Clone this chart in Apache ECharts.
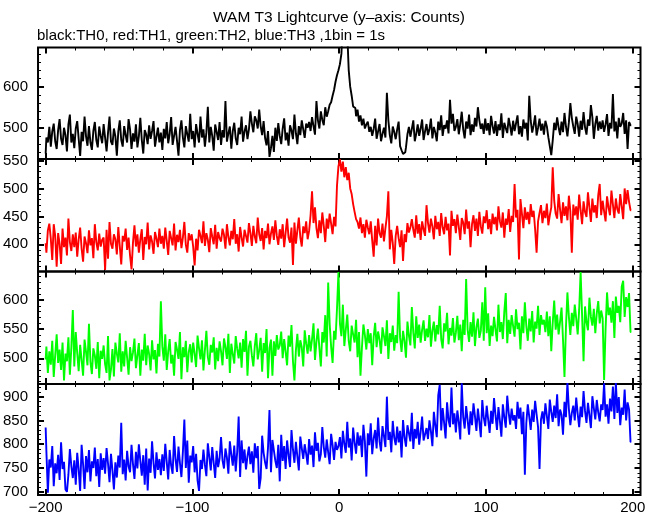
<!DOCTYPE html>
<html><head><meta charset="utf-8">
<script src="https://cdn.jsdelivr.net/npm/echarts@6/dist/echarts.min.js"></script>
<style>html,body{margin:0;padding:0;background:#fff}#c{width:660px;height:515px}</style>
</head><body><div id="c"></div>
<script>
// Time of the first bin and bin width (s)
const binStart = -200;
const binSize = 1;

// TH0 (black) counts per 1 s bin, x = -200 ... 199
const th0 = [
437,476,464,502,454,491,510,467,448,494,521,473,458,500,482,442,508,532,464,485,
450,498,516,473,431,490,467,527,479,456,504,464,446,492,514,470,452,503,480,462,
509,476,442,488,527,466,458,498,479,432,491,518,470,454,504,482,464,521,496,448,
486,466,508,452,479,524,470,437,494,484,460,506,473,492,516,454,478,500,464,488,
446,497,474,514,462,485,526,458,480,502,468,432,494,518,476,452,504,484,466,534,
472,492,452,509,485,464,527,476,496,454,488,551,464,502,480,444,508,490,470,514,
458,494,476,565,466,486,503,449,492,512,474,458,500,484,527,466,491,506,472,496,
540,510,489,528,518,498,544,504,482,516,475,457,492,429,450,480,441,500,468,511,
480,460,498,523,469,488,456,506,493,472,532,486,460,504,482,518,496,475,510,500,
514,492,526,504,483,565,518,498,540,519,506,550,527,540,556,562,578,592,612,628,
640,655,680,760,800,780,730,640,600,578,552,548,528,544,515,530,506,522,498,508,
515,490,502,480,497,522,473,491,509,467,485,500,476,585,518,482,462,503,490,472,
496,515,455,445,436,440,452,484,502,478,497,518,467,485,508,480,498,520,470,491,
509,482,496,522,474,502,488,467,515,494,530,480,506,498,518,486,568,510,534,492,
502,521,484,509,539,496,474,515,498,532,482,508,490,524,503,550,518,497,510,485,
522,493,511,482,529,504,486,516,480,508,494,535,475,512,499,487,524,504,481,517,
492,511,530,484,504,478,520,498,512,469,578,517,488,506,530,481,500,522,493,510,
483,517,503,477,455,433,469,512,494,525,501,482,515,489,536,503,479,513,560,524,
503,485,527,509,478,517,495,538,501,483,520,505,555,526,473,509,529,493,515,497,
518,490,508,533,480,512,498,582,491,515,474,524,502,510,536,485,518,448,514,506
];
// TH1 (red)
const th1 = [
402,385,425,437,410,372,436,415,360,420,401,365,428,395,412,380,446,404,388,418,
395,421,378,409,430,392,369,414,402,384,425,398,411,375,436,404,389,419,396,408,
412,354,426,374,440,401,392,418,409,382,431,397,364,415,405,428,390,412,380,355,
403,434,396,418,385,409,427,372,413,400,439,391,416,405,383,422,410,395,428,401,
415,392,430,406,381,424,411,398,437,389,417,404,426,393,412,440,399,385,420,407,
418,396,362,410,389,426,415,402,441,397,420,408,386,429,414,400,435,392,422,411,
405,428,417,392,436,413,398,424,409,445,401,418,387,431,412,396,426,415,403,438,
420,397,433,414,402,448,418,406,429,391,424,411,437,400,419,432,408,443,415,399,
427,410,436,395,421,446,412,403,430,363,439,401,425,448,413,396,432,420,441,409,
424,452,495,438,466,429,411,443,420,457,433,404,446,428,455,437,418,449,432,505,
540,552,530,548,520,538,515,528,500,490,472,458,445,440,428,448,420,436,412,444,
430,418,441,407,378,433,398,446,420,412,437,405,429,450,495,391,426,402,365,415,
433,411,395,425,370,418,404,438,421,430,445,426,412,452,419,436,408,441,427,415,
470,438,421,446,432,409,451,427,440,415,456,430,418,449,425,437,380,460,433,445,
420,453,431,408,447,439,418,462,428,441,395,436,452,424,446,415,458,432,419,450,
438,461,427,445,418,455,436,449,425,468,441,430,457,412,446,435,463,422,451,440,
508,448,462,373,481,455,429,466,444,458,436,472,449,460,427,385,441,456,470,438,
460,447,473,434,452,466,538,478,455,446,490,462,438,475,451,468,443,487,459,385,
471,452,468,444,489,461,436,477,458,449,493,466,440,482,457,470,447,488,508,452,
478,459,441,486,466,452,496,471,447,482,463,455,490,468,445,500,472,497,476,461
];
// TH2 (green)
const th2 = [
498,520,475,512,489,530,468,505,541,492,515,480,527,462,508,495,536,472,518,583,
486,545,509,478,523,497,470,532,511,488,559,494,473,517,505,482,528,466,513,499,
522,490,475,538,462,481,516,469,527,508,493,543,477,512,486,530,501,472,519,495,
510,534,483,505,526,470,515,496,542,488,522,507,479,531,498,514,474,525,503,598,
520,496,541,480,512,533,491,506,470,528,515,499,545,464,519,502,530,476,511,524,
493,527,508,485,539,517,498,531,479,514,547,502,489,523,510,536,481,518,495,529,
512,488,534,519,499,542,475,525,507,491,538,516,500,527,484,533,511,547,470,520,
530,505,486,521,543,498,514,535,477,526,509,550,466,518,532,470,529,504,540,515,
522,546,500,533,511,488,539,520,557,495,462,514,542,503,531,519,486,548,525,508,
540,512,533,560,497,529,551,518,486,545,527,574,503,630,560,520,492,547,532,585,
648,560,538,592,521,549,575,530,512,556,541,527,566,502,545,470,519,558,540,515,
550,526,543,488,537,561,519,546,532,508,553,538,521,565,499,543,528,556,513,540,
526,614,535,511,547,530,501,563,539,522,588,544,517,572,535,558,527,549,565,530,
551,536,574,520,548,563,529,557,541,590,533,517,560,546,578,524,552,539,569,527,
544,573,531,558,512,566,540,636,549,528,562,537,579,521,553,568,535,547,596,530,
622,543,577,521,556,538,571,549,529,592,545,562,533,580,612,526,566,542,574,555,
537,584,550,561,515,572,543,596,555,530,568,546,581,527,563,551,590,540,574,558,
566,545,580,538,572,512,561,599,549,575,541,563,587,532,468,553,613,571,540,578,
555,592,568,541,583,648,574,495,589,562,548,604,571,556,585,543,577,598,560,582,
569,463,550,613,574,587,561,598,535,606,578,590,562,623,633,571,605,588,612,545
];
// TH3 (blue)
const th3 = [
835,785,698,768,751,796,712,760,739,778,725,804,748,763,705,700,736,790,754,729,
766,715,782,747,702,799,758,706,775,741,788,722,764,750,793,733,769,710,781,746,
771,738,792,759,720,780,745,705,762,730,776,751,845,737,768,724,786,753,741,799,
758,727,784,749,800,765,734,777,715,791,703,770,740,806,761,728,783,746,769,735,
779,744,801,763,726,788,755,738,817,768,742,795,760,731,784,852,750,808,719,776,
762,796,741,780,724,702,767,748,789,757,733,802,773,745,794,761,729,786,752,770,
815,766,749,791,772,738,806,778,755,797,743,784,858,731,808,760,789,747,775,795,
758,785,740,802,771,796,706,729,818,782,762,748,793,872,741,809,787,765,750,799,
722,820,765,796,748,808,777,752,830,789,761,805,774,745,816,792,769,800,780,757,
811,778,797,752,825,786,803,764,779,836,794,772,810,783,758,822,798,767,805,788,
796,815,770,828,801,782,847,793,812,766,835,804,780,825,797,818,773,841,806,732,
823,798,844,779,812,830,791,856,806,785,838,817,794,900,809,826,783,849,814,798,
837,804,828,772,851,815,795,840,823,806,866,790,832,812,847,799,826,858,808,821,
834,811,850,827,796,868,839,815,903,925,829,876,845,812,888,851,836,919,842,865,
825,871,846,810,928,857,833,880,851,820,869,840,886,859,828,875,847,815,893,856,
838,881,852,824,870,843,897,861,830,878,849,816,884,857,835,902,866,841,875,850,
861,832,889,854,877,821,868,736,845,884,858,830,873,847,891,863,836,748,852,869,
843,886,859,832,894,868,847,881,855,905,838,873,862,820,889,857,930,874,840,866,
881,850,898,864,836,879,857,912,870,845,887,861,834,901,876,852,893,867,848,884,
872,928,858,884,843,896,869,921,853,930,866,899,840,877,862,915,850,888,873,805
];

// Axis ticks and labels
const xLabels = [-200, -100, 0, 100, 200];
const xMinor = [-200,-180,-160,-140,-120,-100,-80,-60,-40,-20,0,20,40,60,80,100,120,140,160,180,200];
const yLabels = [
  [500, 600],
  [400, 450, 500, 550],
  [500, 550, 600],
  [700, 750, 800, 850, 900]
];
const yMinor = [
  [440,460,480,500,520,540,560,580,600,620,640,660,680],
  [360,370,380,390,400,410,420,430,440,450,460,470,480,490,500,510,520,530,540,550],
  [460,470,480,490,500,510,520,530,540,550,560,570,580,590,600,610,620,630,640],
  [700,710,720,730,740,750,760,770,780,790,800,810,820,830,840,850,860,870,880,890,900,910,920]
];
const yRanges = [[423.7, 695.6], [351.3, 552.7], [455.9, 648.9], [693.3, 926.6]];
const xRange = [-205.2, 205.3];
const seriesNames = ['TH0', 'TH1', 'TH2', 'TH3'];
const seriesColors = ['#000000', '#ff0000', '#00ff00', '#0000ff'];
const seriesData = [th0, th1, th2, th3];

const FONT = 'Liberation Sans, Arial, Helvetica, sans-serif';
const gridTops = [47.5, 159, 271.5, 384];
const gridH = [111.5, 112.5, 112.5, 111.5];

const grids = [], xAxes = [], yAxes = [], series = [];
for (let g = 0; g < 4; g++) {
  grids.push({left: 36, right: 19.5, top: gridTops[g], height: gridH[g], show: true,
    borderColor: '#000', borderWidth: 2, backgroundColor: 'transparent', containLabel: false});
  ['bottom', 'top'].forEach(pos => {
    xAxes.push({gridIndex: g, type: 'value', position: pos, min: xRange[0], max: xRange[1],
      axisLine: {show: false, onZero: false}, splitLine: {show: false},
      axisTick: {show: true, inside: true, length: 6, customValues: xLabels, lineStyle: {color: '#000', width: 2}},
      axisLabel: {show: g === 3 && pos === 'bottom', customValues: xLabels, margin: 5,
        color: '#000', fontSize: 15, fontFamily: FONT,
        formatter: v => String(v).replace('-', '\u2212')}});
    xAxes.push({gridIndex: g, type: 'value', position: pos, min: xRange[0], max: xRange[1],
      axisLine: {show: false, onZero: false}, splitLine: {show: false},
      axisTick: {show: true, inside: true, length: 3, customValues: xMinor, lineStyle: {color: '#000', width: 1}},
      axisLabel: {show: false}});
  });
  ['left', 'right'].forEach(pos => {
    yAxes.push({gridIndex: g, type: 'value', position: pos, min: yRanges[g][0], max: yRanges[g][1],
      axisLine: {show: false, onZero: false}, splitLine: {show: false},
      axisTick: {show: true, inside: true, length: 6, customValues: yLabels[g], lineStyle: {color: '#000', width: 2}},
      axisLabel: {show: pos === 'left', customValues: yLabels[g], margin: 10,
        color: '#000', fontSize: 15, fontFamily: FONT}});
    yAxes.push({gridIndex: g, type: 'value', position: pos, min: yRanges[g][0], max: yRanges[g][1],
      axisLine: {show: false, onZero: false}, splitLine: {show: false},
      axisTick: {show: true, inside: true, length: 3, customValues: yMinor[g], lineStyle: {color: '#000', width: 1}},
      axisLabel: {show: false}});
  });
  series.push({name: seriesNames[g], type: 'line', xAxisIndex: g * 4, yAxisIndex: g * 4,
    step: 'middle', showSymbol: false, symbol: 'none', clip: true, silent: true,
    lineStyle: {color: seriesColors[g], width: 1.9}, itemStyle: {color: seriesColors[g]},
    data: seriesData[g].map((v, i) => [binStart + i * binSize, v])});
}

const chart = echarts.init(document.getElementById('c'), null, {renderer: 'canvas'});
chart.setOption({
  animation: false,
  backgroundColor: '#fff',
  title: [
    {text: 'WAM T3 Lightcurve (y\u2013axis: Counts)', left: 213, top: 10, padding: 0,
      textStyle: {fontSize: 15.5, fontWeight: 'normal', color: '#000', fontFamily: FONT}},
    {text: 'black:TH0, red:TH1, green:TH2, blue:TH3 ,1bin = 1s', left: 37, top: 28, padding: 0,
      textStyle: {fontSize: 15, fontWeight: 'normal', color: '#000', fontFamily: FONT}}
  ],
  grid: grids, xAxis: xAxes, yAxis: yAxes, series: series
});
</script></body></html>
